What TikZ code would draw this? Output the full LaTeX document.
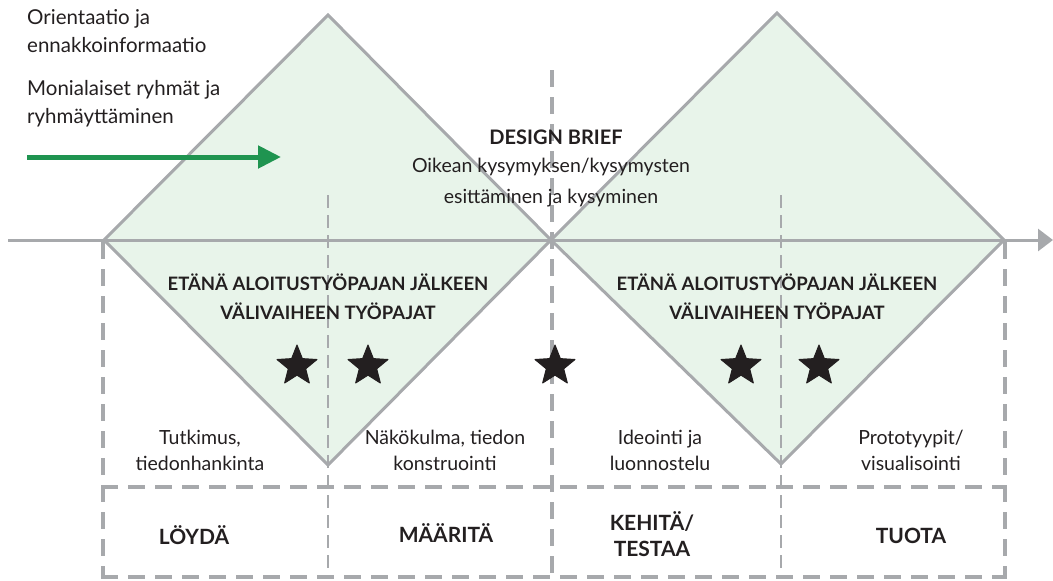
\documentclass[tikz,border=0pt]{standalone}
\usepackage{fontspec}
\setmainfont{Lato}
\usetikzlibrary{arrows.meta,shapes.geometric}
\definecolor{lgray}{HTML}{A7A9AC}
\definecolor{lgreen}{HTML}{E8F4EA}
\definecolor{dgreen}{HTML}{1F9450}
\definecolor{ink}{HTML}{231F20}
\tikzset{
  axisline/.style={draw=lgray,line width=3pt},
  dia/.style={draw=lgray,line width=3pt,fill=lgreen,line join=miter},
  thickdash/.style={draw=lgray,line width=4.5pt,dash pattern=on 17pt off 10pt},
  thindash/.style={draw=lgray,line width=2.6pt,dash pattern=on 13pt off 7pt},
  txt/.style={text=ink,font=\fontsize{19.5}{26}\selectfont,align=center,inner sep=0pt},
  txtd/.style={text=ink,font=\fontsize{19.5}{31}\selectfont,align=center,inner sep=0pt},
  txtl/.style={text=ink,font=\fontsize{20.5}{28}\selectfont,align=left,inner sep=0pt,anchor=west},
  head/.style={text=ink,font=\bfseries\fontsize{18.5}{29}\selectfont,align=center,inner sep=0pt},
  phase/.style={text=ink,font=\bfseries\fontsize{21}{26}\selectfont,align=center,inner sep=0pt},
  starn/.style={star,star points=5,star point ratio=2.3,fill=ink,draw=ink,line join=round,line width=1pt,minimum size=42pt,inner sep=0pt}
}
\begin{document}
\begin{tikzpicture}[x=1pt,y=-1pt]
\useasboundingbox (0,0) rectangle (1053,581);
% key points
\coordinate (L1) at (104,240);
\coordinate (T1) at (328,15);
\coordinate (M) at (551,240);
\coordinate (B1) at (328,465);
\coordinate (T2) at (777,13);
\coordinate (R2) at (1004,240);
\coordinate (B2) at (781,464);
% diamonds
\filldraw[dia] (L1) -- (T1) -- (M) -- (B1) -- cycle;
\filldraw[dia] (M) -- (T2) -- (R2) -- (B2) -- cycle;
% axis
\coordinate (A0) at (8,240);
\coordinate (A1) at (1053,240);
\draw[axisline,-{Triangle[length=15pt,width=22pt]}] (A0) -- (A1);
% vertical dashed
\coordinate (V1t) at (103,242); \coordinate (V1b) at (103,579);
\coordinate (V2t) at (328,195); \coordinate (V2b) at (328,579);
\coordinate (V3t) at (552,70); \coordinate (V3b) at (552,579);
\coordinate (V4t) at (781,195); \coordinate (V4b) at (781,579);
\coordinate (V5t) at (1005,242); \coordinate (V5b) at (1005,579);
\draw[thickdash] (V1t) -- (V1b);
\draw[thindash] (V2t) -- (V2b);
\draw[thickdash] (V3t) -- (V3b);
\draw[thindash] (V4t) -- (V4b);
\draw[thickdash] (V5t) -- (V5b);
% horizontal dashed
\coordinate (H1a) at (101,487); \coordinate (H1b) at (1007,487);
\coordinate (H2a) at (101,577); \coordinate (H2b) at (1007,577);
\draw[thickdash] (H1a) -- (H1b);
\draw[thickdash] (H2a) -- (H2b);
% green arrow
\coordinate (G0) at (27,157);
\coordinate (G1) at (281,157);
\draw[dgreen,line width=5pt,-{Triangle[length=23pt,width=22pt]}] (G0) -- (G1);
% texts
\node[txtl] (orient) at (27,31) {Orientaatio ja\\ennakkoinformaatio};
\node[txtl] (moni) at (27,104) {Monialaiset ryhmät ja\\ryhmäyttäminen};
\node[text=ink,font=\bfseries\fontsize{20}{20}\selectfont,inner sep=0pt] (db) at (556,137) {DESIGN BRIEF};
\node[txtd] (oik) at (551,183) {Oikean kysymyksen/kysymysten\\esittäminen ja kysyminen};
\node[head] (e1) at (328,297) {ETÄNÄ ALOITUSTYÖPAJAN JÄLKEEN\\VÄLIVAIHEEN TYÖPAJAT};
\node[head] (e2) at (777,297) {ETÄNÄ ALOITUSTYÖPAJAN JÄLKEEN\\VÄLIVAIHEEN TYÖPAJAT};
% stars
\node[starn] (s1) at (297,366) {};
\node[starn] (s2) at (368,366) {};
\node[starn] (s3) at (555,366) {};
\node[starn] (s4) at (741,366) {};
\node[starn] (s5) at (819,366) {};
% phase descriptions
\node[txt] (d1) at (200,450) {Tutkimus,\\tiedonhankinta};
\node[txt] (d2) at (445,450) {Näkökulma, tiedon\\konstruointi};
\node[txt] (d3) at (660,450) {Ideointi ja\\luonnostelu};
\node[txt] (d4) at (911,450) {Prototyypit/\\visualisointi};
% phases
\node[phase] (p1) at (194,535) {LÖYDÄ};
\node[phase] (p2) at (446,533) {MÄÄRITÄ};
\node[phase] (p3) at (652,534) {KEHITÄ/\\TESTAA};
\node[phase] (p4) at (911,536) {TUOTA};
\end{tikzpicture}
\end{document}
